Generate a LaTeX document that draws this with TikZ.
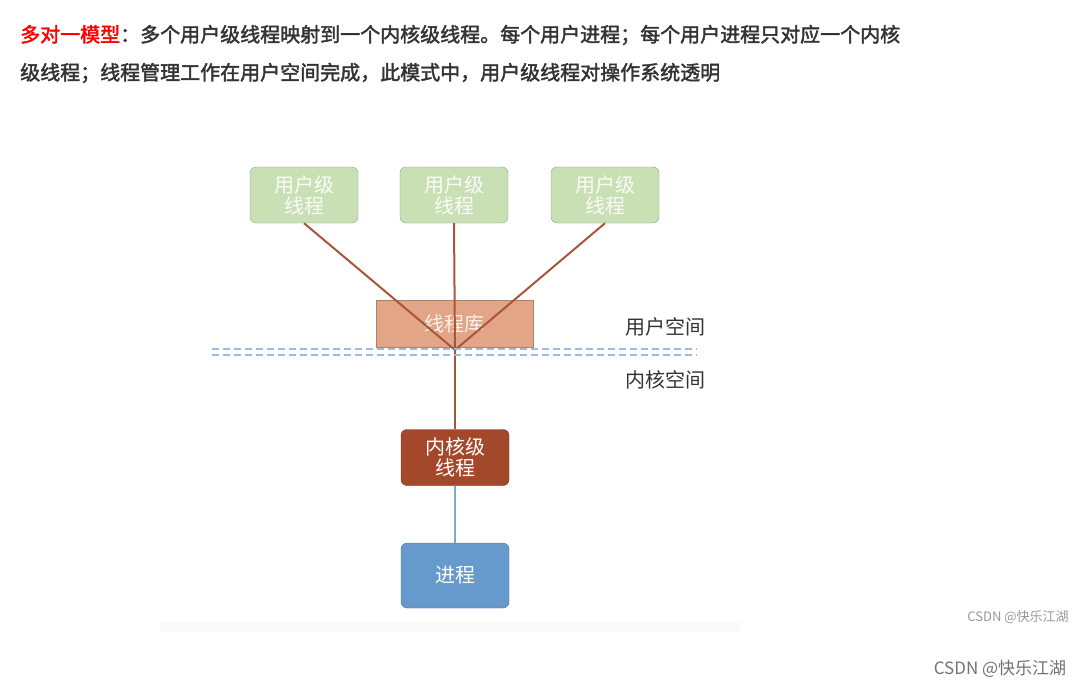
\documentclass[tikz,border=0pt]{standalone}
\usepackage{fontspec}
\setmainfont{Noto Sans CJK SC}
\newfontfamily\cjkb{Noto Sans CJK SC}[FakeBold=2]
\usetikzlibrary{calc}
\definecolor{ugreen}{HTML}{C8E0B4}
\definecolor{ugreenb}{HTML}{8AA39A}
\definecolor{libc}{HTML}{E3A587}
\definecolor{libb}{HTML}{B0806A}
\definecolor{kern}{HTML}{A3482A}
\definecolor{proc}{HTML}{6699CC}
\definecolor{link}{HTML}{A8553A}
\definecolor{dash}{HTML}{9DBBE0}
\definecolor{txt}{HTML}{333333}
\tikzset{
 ubox/.style={draw=ugreenb,fill=ugreen,rounded corners=6pt,minimum width=108pt,minimum height=56pt,text=white!92!ugreen,font=\fontsize{20}{24}\selectfont,align=center,inner sep=0pt},
 kbox/.style={ubox,draw=kern!70!black,fill=kern,text=white},
 pbox/.style={ubox,draw=proc!75!black,fill=proc,text=white,minimum height=65pt},
 lnk/.style={draw=link,line width=2pt},
 lbl/.style={font=\fontsize{20}{24}\selectfont,text=txt},
}
\begin{document}
\begin{tikzpicture}[x=1pt,y=-1pt]
\useasboundingbox[fill=white] (0,0) rectangle (1092,690);
\node[anchor=west,font=\cjkb\fontsize{20}{24}\selectfont,text=txt,inner sep=0pt] (t1) at (20,35) {\textcolor{red}{多对一模型}：多个用户级线程映射到一个内核级线程。每个用户进程；每个用户进程只对应一个内核};
\node[anchor=west,font=\cjkb\fontsize{20}{24}\selectfont,text=txt,inner sep=0pt] (t2) at (20,73) {级线程；线程管理工作在用户空间完成，此模式中，用户级线程对操作系统透明};
\fill[black!2] (160,622) rectangle (740,632);
\node[draw=libb,fill=libc,minimum width=157pt,minimum height=47pt,inner sep=0pt,text=white!85!libc,font=\fontsize{20}{24}\selectfont] (lib) at (454.5,323.5) {线程库};
\node[ubox] (u1) at (304,195) {用户级\\[-3pt]线程};
\node[ubox] (u2) at (454,195) {用户级\\[-3pt]线程};
\node[ubox] (u3) at (605,195) {用户级\\[-3pt]线程};
\coordinate (m) at (455,350);
\node[kbox] (k) at (455,457.5) {内核级\\[-3pt]线程};
\node[pbox] (p) at (455,575.5) {进程};
\draw[lnk] (u1.south) -- (m);
\draw[lnk] (u2.south) -- (m);
\draw[lnk] (u3.south) -- (m);
\draw[lnk] (m) -- (k.north);
\draw[draw=dash,line width=2pt,dash pattern=on 7pt off 4pt] (212,349) -- (697,349) (212,355) -- (697,355);
\draw[draw=proc!85!white,line width=2pt] (k.south) -- (p.north);
\node[lbl] (us) at (665,327) {用户空间};
\node[lbl] (ks) at (665,380) {内核空间};
\node[font=\fontsize{13}{15}\selectfont,text=black!40] (w1) at (1018,617) {CSDN @快乐江湖};
\node[font=\fontsize{17}{20}\selectfont,text=black!55] (w2) at (1000,669) {CSDN @快乐江湖};
\end{tikzpicture}
\end{document}
